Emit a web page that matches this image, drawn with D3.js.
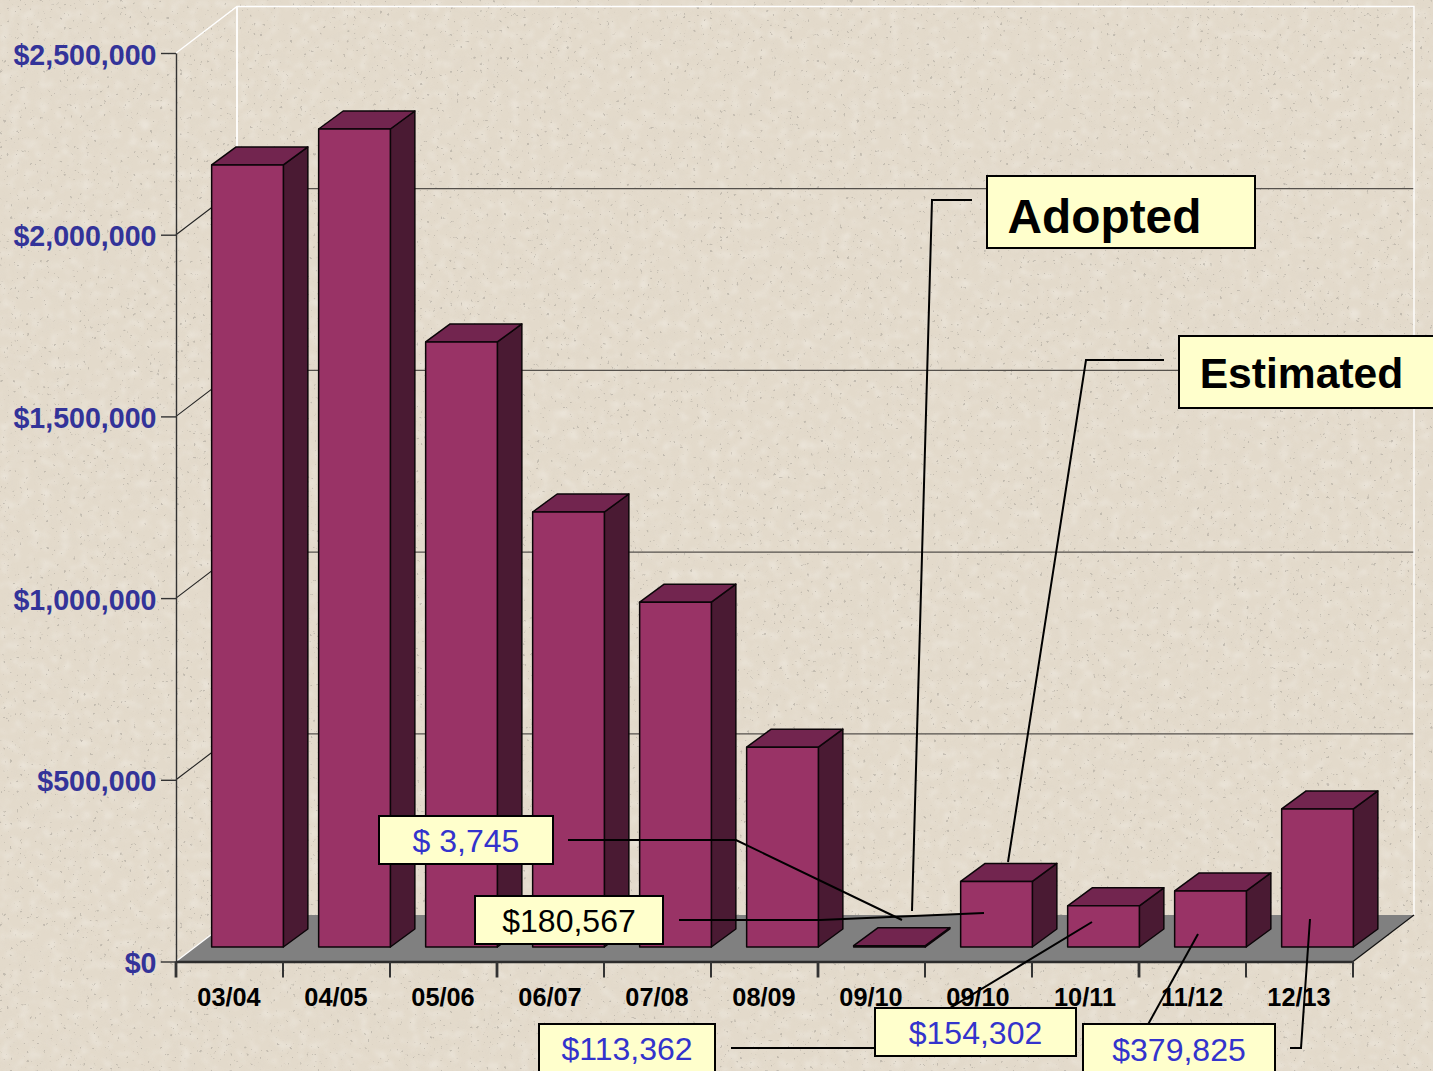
<!DOCTYPE html>
<html><head><meta charset="utf-8">
<script src="https://cdn.jsdelivr.net/npm/d3@7"></script>
<style>html,body{margin:0;padding:0;background:#e3dacb;overflow:hidden}svg{display:block}text{font-family:"Liberation Sans",Arial,sans-serif}</style>
</head><body>
<svg id="c" width="1433" height="1071"></svg>
<script>
const categories = ["03/04","04/05","05/06","06/07","07/08","08/09","09/10","09/10","10/11","11/12","12/13"];
const values = [2152000,2251000,1665000,1197000,949000,550000,3745,180567,113362,154302,379825];
const yTicks = [0,500000,1000000,1500000,2000000,2500000];
const calloutNames = ["Adopted","Estimated"];
const calloutValues = ["$ 3,745","$180,567","$113,362","$154,302","$379,825"];

// layout
const W=1433,H=1071;
const floorDepth={dx:61,dy:-46.5}, barInset={dx:18,dy:-14.5}, barDepth={dx:24.5,dy:-18};
const svg=d3.select("#c");
const defs=svg.append("defs");
function noise(id,freq,oct,seed,matrix,blur){
  const f=defs.append("filter").attr("id",id).attr("x",0).attr("y",0).attr("width","100%").attr("height","100%");
  f.append("feTurbulence").attr("type","fractalNoise").attr("baseFrequency",freq).attr("numOctaves",oct).attr("seed",seed);
  f.append("feColorMatrix").attr("type","matrix").attr("values",matrix);
  if(blur)f.append("feGaussianBlur").attr("stdDeviation",blur);
}
noise("mott",0.06,2,7,"0 0 0 0 0.72  0 0 0 0 0.67  0 0 0 0 0.58  2 0 0 0 -0.85",2);
noise("spk",0.3,2,21,"0 0 0 0 0.42  0 0 0 0 0.39  0 0 0 0 0.34  12 0 0 0 -8.4",0.7);
noise("lite",0.1,2,3,"0 0 0 0 0.94  0 0 0 0 0.92  0 0 0 0 0.88  0 2.5 0 0 -1.2",1.6);

svg.append("rect").attr("width",W).attr("height",H).attr("fill","#e3dacb");
svg.append("rect").attr("width",W).attr("height",H).attr("filter","url(#lite)").attr("opacity",.4);
svg.append("rect").attr("width",W).attr("height",H).attr("filter","url(#mott)").attr("opacity",.22);
svg.append("rect").attr("width",W).attr("height",H).attr("filter","url(#spk)").attr("opacity",.6);

const y=d3.scaleLinear().domain([0,2500000]).range([961.5,53]);
const x=d3.scaleBand().domain(d3.range(categories.length)).range([176,1353]).paddingInner(.33).paddingOuter(.165);
const step=x.step();
const x0=176, x1=1353, y0=y(0);
const fmt=d3.format("$,");

// back wall
const back=svg.append("g");
back.append("g").selectAll("line").data(yTicks.slice(1,-1)).join("line")
  .attr("x1",x0+floorDepth.dx).attr("x2",x1+floorDepth.dx)
  .attr("y1",d=>y(d)+floorDepth.dy+.5).attr("y2",d=>y(d)+floorDepth.dy+.5)
  .attr("stroke","#55514c").attr("stroke-width",1.3);
back.append("g").selectAll("line").data(yTicks.slice(1,-1)).join("line")
  .attr("x1",x0).attr("y1",d=>y(d)).attr("x2",x0+floorDepth.dx).attr("y2",d=>y(d)+floorDepth.dy)
  .attr("stroke","#222").attr("stroke-width",1.1);
const topTick=yTicks[yTicks.length-1];
back.append("path").attr("fill","none").attr("stroke","#fff").attr("stroke-width",1.4)
  .attr("d",`M${x0},${y(topTick)}L${x0+floorDepth.dx},${y(topTick)+floorDepth.dy}L${x1+floorDepth.dx},${y(topTick)+floorDepth.dy}L${x1+floorDepth.dx},${y0+floorDepth.dy}`);
back.append("line").attr("x1",x0+floorDepth.dx).attr("x2",x0+floorDepth.dx)
  .attr("y1",y(topTick)+floorDepth.dy).attr("y2",y0+floorDepth.dy).attr("stroke","#fff").attr("stroke-width",1.8);

// floor
svg.append("path").attr("fill","#808080")
  .attr("d",`M${x0},${y0}L${x0+floorDepth.dx},${y0+floorDepth.dy}L${x1+floorDepth.dx},${y0+floorDepth.dy}L${x1},${y0}Z`);
svg.append("line").attr("x1",x1).attr("y1",y0).attr("x2",x1+floorDepth.dx).attr("y2",y0+floorDepth.dy).attr("stroke","#111").attr("stroke-width",1.2);
svg.append("line").attr("x1",x0).attr("y1",y0).attr("x2",x0+floorDepth.dx).attr("y2",y0+floorDepth.dy).attr("stroke","#fff").attr("stroke-width",1.2);

// bars
const bars=svg.append("g").selectAll("g").data(values).join("g");
const bx=(i)=>x(i)+barInset.dx, bw=x.bandwidth(), by=d=>y(d)+barInset.dy, bb=y(0)+barInset.dy;
const sk={stroke:"#0b0508","stroke-width":1.5,"stroke-linejoin":"round"};
function applyStroke(s){for(const k in sk)s.attr(k,sk[k]);return s;}
applyStroke(bars.append("path").attr("fill","#4a1a33")
  .attr("d",(d,i)=>`M${bx(i)+bw},${by(d)}L${bx(i)+bw+barDepth.dx},${by(d)+barDepth.dy}L${bx(i)+bw+barDepth.dx},${bb+barDepth.dy}L${bx(i)+bw},${bb}Z`));
applyStroke(bars.append("path").attr("fill","#72254f")
  .attr("d",(d,i)=>`M${bx(i)},${by(d)}L${bx(i)+barDepth.dx},${by(d)+barDepth.dy}L${bx(i)+bw+barDepth.dx},${by(d)+barDepth.dy}L${bx(i)+bw},${by(d)}Z`));
applyStroke(bars.append("rect").attr("fill","#993366")
  .attr("x",(d,i)=>bx(i)).attr("width",bw).attr("y",d=>by(d)).attr("height",d=>bb-by(d)));

// y axis
const ya=svg.append("g").attr("transform",`translate(${x0},0)`)
  .call(d3.axisLeft(y).tickValues(yTicks).tickSize(15).tickSizeOuter(0).tickPadding(4.5).tickFormat(fmt));
ya.selectAll("path,line").attr("stroke","#333").attr("stroke-width",1.4);
ya.selectAll("text").attr("fill","#333399").attr("font-size",28.6).attr("font-weight","bold").attr("font-family",'"Liberation Sans",Arial,sans-serif').attr("dy","0.39em");

// x axis: labels on band centres, ticks on band edges
const xa=svg.append("g").attr("transform",`translate(0,${y0})`)
  .call(d3.axisBottom(x).tickSize(0).tickPadding(0).tickFormat(i=>categories[i]));
xa.select("path").remove();
xa.selectAll("text").attr("fill","#000").attr("font-size",25.3).attr("font-weight","bold").attr("font-family",'"Liberation Sans",Arial,sans-serif').attr("dy",0).attr("y",44).attr("dx",-0.5);
svg.append("line").attr("x1",x0).attr("x2",x1).attr("y1",y0+.5).attr("y2",y0+.5).attr("stroke","#2c2c2c").attr("stroke-width",2.4);
svg.append("g").selectAll("line").data(d3.range(categories.length+1)).join("line")
  .attr("x1",i=>x0+i*step).attr("x2",i=>x0+i*step).attr("y1",y0).attr("y2",y0+16)
  .attr("stroke","#333").attr("stroke-width",(i)=>i%3==0?2.8:2);

// callouts
const leaders=[
 [[972,200],[932,200],[912,911]],
 [[1164,360],[1086,360],[1008,862]],
 [[568,840],[736,840],[902,920]],
 [[679,920],[820,920],[984,913]],
 [[731,1048],[884,1048],[1092,922]],
 [[1135,1048],[1198,934]],
 [[1290,1048],[1301,1048],[1310,919]]
];
const leaderPath=d3.line();
svg.append("g").selectAll("path").data(leaders).join("path").attr("d",leaderPath)
  .attr("fill","none").attr("stroke","#000").attr("stroke-width",2);

const boxes=[
 {t:calloutNames[0],b:[987,176,268,72],tx:1104.5,ty:233,fs:47.8,c:"#000",w:"bold"},
 {t:calloutNames[1],b:[1179,336,270,72],tx:1301.5,ty:388,fs:42.6,c:"#000",w:"bold"},
 {t:calloutValues[0],b:[379,816,174,48],tx:466,ty:852,fs:32,c:"#3333cc",w:"normal"},
 {t:calloutValues[1],b:[475,896,188,48],tx:569,ty:932,fs:32,c:"#000",w:"normal"},
 {t:calloutValues[2],b:[539,1024,176,60],tx:627,ty:1060,fs:32,c:"#3333cc",w:"normal"},
 {t:calloutValues[3],b:[875,1008,201,48],tx:975.5,ty:1044,fs:32,c:"#3333cc",w:"normal"},
 {t:calloutValues[4],b:[1083,1024,192,60],tx:1179,ty:1061,fs:32,c:"#3333cc",w:"normal"}
];
const bg=svg.append("g").selectAll("g").data(boxes).join("g");
bg.append("rect").attr("x",d=>d.b[0]).attr("y",d=>d.b[1]).attr("width",d=>d.b[2]).attr("height",d=>d.b[3])
  .attr("fill","#ffffcc").attr("stroke","#000").attr("stroke-width",2);
bg.append("text").attr("x",d=>d.tx).attr("y",d=>d.ty).attr("text-anchor","middle")
  .attr("font-size",d=>d.fs).attr("font-weight",d=>d.w).attr("fill",d=>d.c).text(d=>d.t);
</script>
</body></html>
